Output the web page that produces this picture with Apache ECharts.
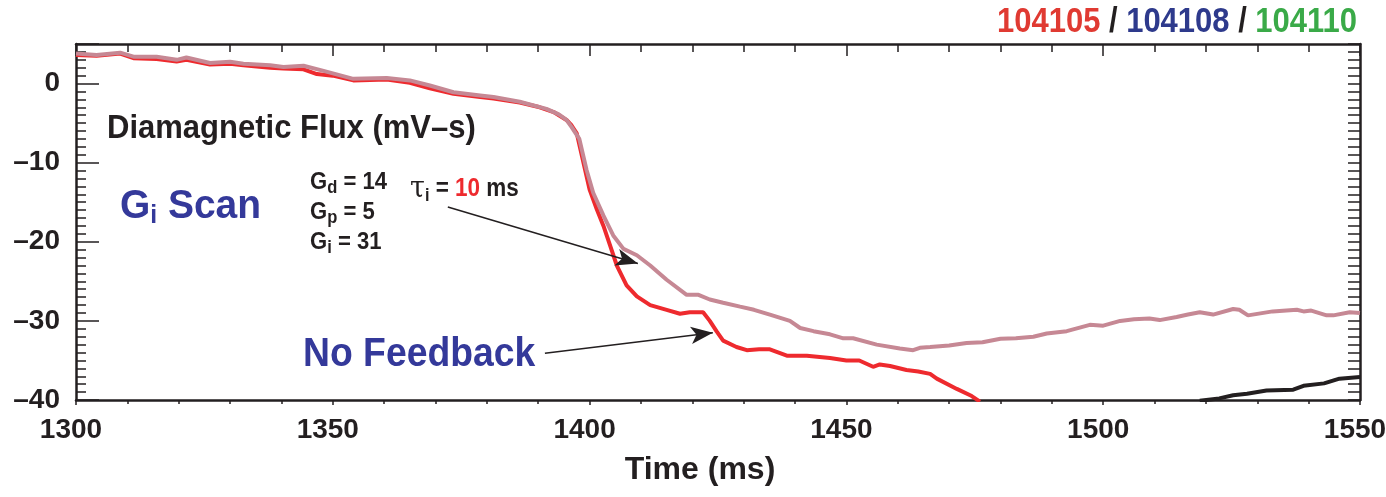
<!DOCTYPE html>
<html>
<head>
<meta charset="utf-8">
<script src="https://cdn.jsdelivr.net/npm/echarts@6/dist/echarts.min.js"></script>
<style>
html,body{margin:0;padding:0;background:#fff;overflow:hidden;}
#c{width:1386px;height:497px;}
</style>
</head>
<body>
<div id="c"></div>
<script>
// ---- data ----
const xTicks = [1300, 1350, 1400, 1450, 1500, 1550];
const yTicks = [-40, -30, -20, -10, 0];

// No Feedback (red)
const noFbT = [1300,1304,1308.6,1311.2,1315.7,1319.6,1321.5,1326.1,1330,1332.6,1337.8,1340.4,1344.3,1346.9,1350,1354,1360.5,1365,1368.9,1373.5,1378.7,1381.3,1386.4,1390.3,1393,1395.5,1396.5,1397.5,1398.8,1400,1401.4,1402.7,1404,1405.3,1407.2,1409.2,1411.8,1415,1417.6,1419.5,1422.1,1423.4,1424.7,1426,1428.6,1430.6,1433,1435.1,1438.4,1442.3,1446.8,1450,1452.5,1455.2,1456.5,1458.5,1461.7,1464,1466.3,1467.6,1471.5,1474.4,1476];
const noFbV = [3.6,3.5,3.8,3.2,3.1,2.8,3.0,2.4,2.5,2.3,2.0,1.9,1.8,1.2,1.0,0.4,0.5,0.1,-0.6,-1.3,-1.7,-1.9,-2.4,-3.0,-3.6,-4.6,-5.3,-6.3,-10.0,-13.4,-15.9,-18,-20.5,-23,-25.5,-26.9,-28,-28.6,-29.1,-28.9,-28.9,-30,-31.3,-32.5,-33.3,-33.7,-33.6,-33.6,-34.4,-34.4,-34.7,-35.0,-35.0,-35.8,-35.5,-35.7,-36.2,-36.4,-36.7,-37.3,-38.6,-39.5,-40.2];

// tau_i = 10 ms (pink)
const tauT = [1300,1304,1308.6,1311.2,1315.7,1319.6,1321.5,1326.1,1330,1332.6,1337.8,1340.4,1344.3,1348.2,1354,1360.5,1365,1368.9,1373.5,1378.7,1381.3,1386.4,1391.6,1394,1395.5,1396.5,1398,1399.4,1400.7,1402.7,1404.6,1406.6,1409.2,1411.8,1415,1418.9,1421.2,1423.4,1426,1429.3,1432,1435.1,1439,1441,1443.6,1446.8,1449.4,1451.3,1455.9,1460.4,1463,1464.3,1466.3,1470,1473.4,1476.5,1480,1483,1486.4,1489,1492.9,1497.4,1500,1503.3,1506,1509,1511,1514.3,1516.5,1518.8,1521.4,1525.3,1526.5,1528.2,1533,1537.7,1539,1540.5,1543.5,1544.8,1548,1550];
const tauV = [3.8,3.6,3.9,3.4,3.4,3.0,3.3,2.6,2.75,2.5,2.3,2.1,2.25,1.6,0.6,0.7,0.4,-0.25,-1.1,-1.5,-1.7,-2.3,-3.2,-3.9,-4.6,-5.5,-7.0,-10.9,-13.8,-16.7,-19.2,-20.9,-21.7,-23,-24.8,-26.7,-26.7,-27.3,-27.7,-28.2,-28.6,-29.2,-30,-30.9,-31.3,-31.7,-32.2,-32.2,-33,-33.5,-33.7,-33.4,-33.3,-33.1,-32.8,-32.7,-32.25,-32.2,-32.0,-31.6,-31.3,-30.5,-30.6,-30.0,-29.8,-29.7,-29.9,-29.5,-29.2,-28.9,-29.2,-28.5,-28.6,-29.3,-28.8,-28.6,-28.8,-28.7,-29.3,-29.3,-28.9,-29.0];

// third shot (black)
const blkT = [1518.8,1522.6,1525.3,1528,1531.8,1537,1539,1543,1546,1550];
const blkV = [-40.1,-39.8,-39.4,-39.2,-38.8,-38.7,-38.2,-37.9,-37.3,-37.1];

const shotLabels = ['104105', '104108', '104110'];

// ---- chart ----
const F = "'Liberation Sans',Arial,sans-serif";
const INK = '#231F20';
const BLUE = '#34399A';
const zip = (a, b) => a.map((t, i) => [t, b[i]]);

const chart = echarts.init(document.getElementById('c'), null, {renderer: 'canvas'});

const axLine = {show: true, onZero: false, lineStyle: {color: INK, width: 2.5}};
const tickStyle = {color: INK, width: 1.5};

function txt(x, y, text, rich, align, scaleX) {
  return {
    type: 'text', x: x, y: y, scaleX: scaleX, scaleY: 1,
    style: {text: text, rich: rich, align: align, textAlign: align,
            verticalAlign: 'middle', textVerticalAlign: 'middle'}
  };
}

const option = {
  animation: false,
  backgroundColor: '#fff',
  grid: {left: 76, right: 26, top: 44, bottom: 97, containLabel: false, outerBoundsMode: 'none'},
  xAxis: [
    {
      type: 'value', min: xTicks[0], max: xTicks[xTicks.length - 1], interval: 50,
      position: 'bottom',
      axisLine: axLine,
      axisTick: {show: true, inside: false, length: 5, lineStyle: tickStyle},
      minorTick: {show: true, splitNumber: 5, length: 4, lineStyle: tickStyle},
      splitLine: {show: false},
      axisLabel: {fontFamily: F, fontWeight: 'bold', fontSize: 28, color: INK, margin: 16,
                  padding: [0, 10, 0, 0], formatter: v => String(v)},
      name: 'Time (ms)', nameLocation: 'middle', nameGap: 54,
      nameTextStyle: {fontFamily: F, fontWeight: 'bold', fontSize: 32, color: INK, padding: [0, 36, 0, 0]}
    },
    {
      type: 'value', min: xTicks[0], max: xTicks[xTicks.length - 1], interval: 50,
      position: 'top',
      axisLine: axLine,
      axisTick: {show: true, inside: true, length: 12, lineStyle: tickStyle},
      minorTick: {show: true, splitNumber: 5, length: 8, lineStyle: tickStyle},
      splitLine: {show: false},
      axisLabel: {show: false}
    }
  ],
  yAxis: [
    {
      type: 'value', min: yTicks[0], max: 5, interval: 10, position: 'left',
      axisLine: axLine,
      axisTick: {show: true, inside: true, length: 23, lineStyle: tickStyle},
      splitLine: {show: false},
      axisLabel: {
        fontFamily: F, fontWeight: 'bold', fontSize: 28, color: INK, margin: 16,
        formatter: v => (yTicks.indexOf(v) < 0 ? '' : String(v).replace('-', '\u2013'))
      }
    },
    {
      type: 'value', min: yTicks[0], max: 5, interval: 1, position: 'left',
      axisLine: {show: false},
      axisTick: {show: true, inside: true, length: 10, lineStyle: tickStyle},
      splitLine: {show: false}, axisLabel: {show: false}
    },
    {
      type: 'value', min: yTicks[0], max: 5, interval: 1, position: 'right',
      axisLine: axLine,
      axisTick: {show: true, inside: true, length: 12, lineStyle: tickStyle},
      splitLine: {show: false}, axisLabel: {show: false}
    }
  ],
  series: [
    {
      name: 'No Feedback', type: 'line', xAxisIndex: 0, yAxisIndex: 0,
      data: zip(noFbT, noFbV), showSymbol: false, symbol: 'none', clip: true,
      lineStyle: {color: '#EE2A2E', width: 4}, z: 3
    },
    {
      name: 'tau_i = 10 ms', type: 'line', xAxisIndex: 0, yAxisIndex: 0,
      data: zip(tauT, tauV), showSymbol: false, symbol: 'none', clip: true,
      lineStyle: {color: '#C68894', width: 4}, z: 4,
      markLine: {
        silent: true, symbol: ['none', 'arrow'], symbolSize: [13, 22],
        label: {show: false},
        lineStyle: {color: INK, width: 1.5, type: 'solid'},
        data: [
          [{coord: [1372.4, -15.6]}, {coord: [1409.4, -22.75]}],
          [{coord: [1391.3, -34.1]}, {coord: [1424.0, -31.5]}]
        ]
      }
    },
    {
      name: 'other', type: 'line', xAxisIndex: 0, yAxisIndex: 0,
      data: zip(blkT, blkV), showSymbol: false, symbol: 'none', clip: true,
      lineStyle: {color: '#231F20', width: 4}, z: 3
    }
  ],
  graphic: [
    txt(1357, 22,
      '{r|' + shotLabels[0] + '}{k| / }{b|' + shotLabels[1] + '}{k| / }{g|' + shotLabels[2] + '}',
      {
        r: {fill: '#E03A32', fontFamily: F, fontWeight: 'bold', fontSize: 35},
        b: {fill: '#2E3A8C', fontFamily: F, fontWeight: 'bold', fontSize: 35},
        g: {fill: '#3AAA48', fontFamily: F, fontWeight: 'bold', fontSize: 35},
        k: {fill: INK, fontFamily: F, fontWeight: 'bold', fontSize: 35}
      }, 'right', 0.885),
    txt(107, 129, '{m|Diamagnetic Flux (mV\u2013s)}',
      {m: {fill: INK, fontFamily: F, fontWeight: 'bold', fontSize: 33}}, 'left', 0.94),
    txt(120, 207, '{m|G}{s|i}{m| Scan}',
      {
        m: {fill: BLUE, fontFamily: F, fontWeight: 'bold', fontSize: 41, lineHeight: 44, verticalAlign: 'middle'},
        s: {fill: BLUE, fontFamily: F, fontWeight: 'bold', fontSize: 26, lineHeight: 30, verticalAlign: 'bottom'}
      }, 'left', 0.95),
    txt(310, 212, '{m|G}{s|d}{m| = 14}\n{m|G}{s|p}{m| = 5}\n{m|G}{s|i}{m| = 31}',
      {
        m: {fill: INK, fontFamily: F, fontWeight: 'bold', fontSize: 24, lineHeight: 30, verticalAlign: 'middle'},
        s: {fill: INK, fontFamily: F, fontWeight: 'bold', fontSize: 18, lineHeight: 17, verticalAlign: 'bottom'}
      }, 'left', 0.92),
    txt(410, 189, '{t|\u03C4}{s|i}{m| = }{r|10}{m| ms}',
      {
        t: {fill: INK, fontFamily: "'DejaVu Serif',serif", fontSize: 30, lineHeight: 32, verticalAlign: 'middle'},
        s: {fill: INK, fontFamily: F, fontWeight: 'bold', fontSize: 18, lineHeight: 20, verticalAlign: 'bottom'},
        m: {fill: INK, fontFamily: F, fontWeight: 'bold', fontSize: 25, lineHeight: 32, verticalAlign: 'middle'},
        r: {fill: '#EE2A2E', fontFamily: F, fontWeight: 'bold', fontSize: 25, lineHeight: 32, verticalAlign: 'middle'}
      }, 'left', 0.9),
    txt(303, 355, '{m|No Feedback}',
      {m: {fill: BLUE, fontFamily: F, fontWeight: 'bold', fontSize: 41}}, 'left', 0.91)
  ]
};
chart.setOption(option);
</script>
</body>
</html>
